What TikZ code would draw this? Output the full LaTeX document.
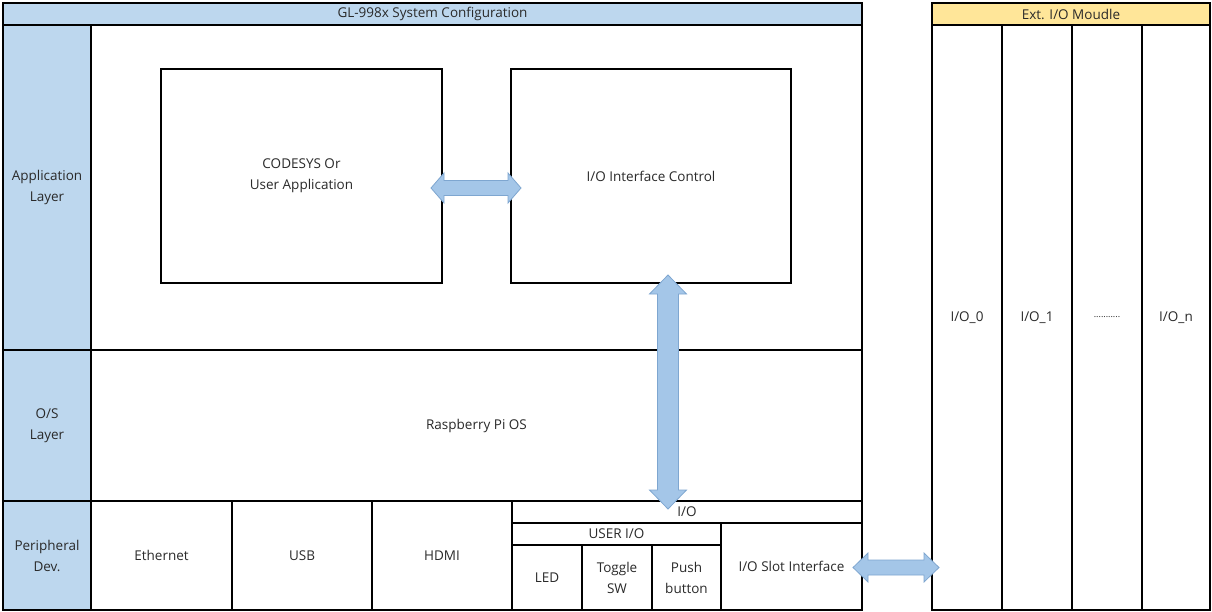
\documentclass[tikz,border=0pt]{standalone}
\usepackage{fontspec}
\setmainfont{Open Sans}
\usetikzlibrary{calc}
\definecolor{hdrblue}{HTML}{BDD7EE}
\definecolor{hdryellow}{HTML}{FFE699}
\definecolor{arrowfill}{HTML}{A4C6E8}
\definecolor{arrowline}{HTML}{7EA6D0}
\definecolor{txt}{HTML}{2A2A2A}
\tikzset{
  cell/.style={draw=black, line width=1.5pt, inner sep=0pt, align=center,
    font=\fontsize{13.5}{21}\selectfont, text=txt},
  blockarrow/.style={draw=arrowline, fill=arrowfill, line width=0.8pt, line join=miter},
}
% horizontal block arrow: #1 left tip, #2 right tip, head length, head half, shaft half
\newcommand\hblockarrow[5]{%
  \path let \p1=(#1), \p2=(#2) in
    [blockarrow] (\x1,\y1) -- (\x1+#3,\y1+#4) -- (\x1+#3,\y1+#5) -- (\x2-#3,\y1+#5)
    -- (\x2-#3,\y1+#4) -- (\x2,\y1) -- (\x2-#3,\y1-#4) -- (\x2-#3,\y1-#5)
    -- (\x1+#3,\y1-#5) -- (\x1+#3,\y1-#4) -- cycle;}
% vertical block arrow: #1 top tip, #2 bottom tip
\newcommand\vblockarrow[5]{%
  \path let \p1=(#1), \p2=(#2) in
    [blockarrow] (\x1,\y1) -- (\x1+#4,\y1-#3) -- (\x1+#5,\y1-#3) -- (\x1+#5,\y2+#3)
    -- (\x1+#4,\y2+#3) -- (\x1,\y2) -- (\x1-#4,\y2+#3) -- (\x1-#5,\y2+#3)
    -- (\x1-#5,\y1-#3) -- (\x1-#4,\y1-#3) -- cycle;}
\begin{document}
\begin{tikzpicture}[x=1pt,y=-1pt]
\useasboundingbox (0,0) rectangle (1212,612);
\fill[white] (0,0) rectangle (1212,612);
% ---- main system ----
\node[cell, minimum width=771pt, minimum height=325pt] (apparea) at (476.5,187.5) {};
\node[cell, minimum width=771pt, minimum height=151pt] (osarea) at (476.5,425.5) {Raspberry Pi OS};
\node[cell, fill=hdrblue, minimum width=859pt, minimum height=22pt] (sys) at (432.5,14) {GL-998x System Configuration};
\node[cell, fill=hdrblue, minimum width=88pt, minimum height=325pt] (lapp) at (47,187.5) {Application\\Layer};
\node[cell, fill=hdrblue, minimum width=88pt, minimum height=151pt] (los) at (47,425.5) {O/S\\Layer};
\node[cell, fill=hdrblue, minimum width=88pt, minimum height=109pt] (lper) at (47,555.5) {Peripheral\\Dev.};
\node[cell, minimum width=281pt, minimum height=214pt] (codesys) at (301.5,176) {CODESYS Or\\User Application};
\node[cell, minimum width=280pt, minimum height=214pt] (ioc) at (651,176) {I/O Interface Control};
\node[cell, minimum width=141pt, minimum height=109pt] (eth) at (161.5,555.5) {Ethernet};
\node[cell, minimum width=140pt, minimum height=109pt] (usb) at (302,555.5) {USB};
\node[cell, minimum width=140pt, minimum height=109pt] (hdmi) at (442,555.5) {HDMI};
\node[cell, minimum width=350pt, minimum height=22pt] (io) at (687,512) {};
\node[cell, minimum width=209pt, minimum height=22pt] (userio) at (616.5,534) {USER I/O};
\node[cell, minimum width=70pt, minimum height=65pt] (led) at (547,577.5) {LED};
\node[cell, minimum width=70pt, minimum height=65pt] (toggle) at (617,577.5) {Toggle\\SW};
\node[cell, minimum width=69pt, minimum height=65pt] (push) at (686.5,577.5) {Push\\button};
\node[cell, minimum width=141pt, minimum height=87pt] (slot) at (791.5,566.5) {I/O Slot Interface};
% ---- external module ----
\node[cell, minimum width=70pt, minimum height=585pt] (io0) at (967,317.5) {I/O\_0};
\node[cell, minimum width=70pt, minimum height=585pt] (io1) at (1037,317.5) {I/O\_1};
\node[cell, minimum width=70pt, minimum height=585pt] (iodots) at (1107,317.5) {\fontsize{9}{10}\selectfont ...........};
\node[cell, minimum width=68pt, minimum height=585pt] (ion) at (1176,317.5) {I/O\_n};
\node[cell, fill=hdryellow, minimum width=278pt, minimum height=22pt] (ext) at (1071,14) {Ext. I/O Moudle};
% ---- block arrows ----
\coordinate (a1l) at (431,188);
\coordinate (a1r) at (521,188);
\hblockarrow{a1l}{a1r}{13}{15}{7.5}
\coordinate (a3l) at (853,567.5);
\coordinate (a3r) at (939,567.5);
\hblockarrow{a3l}{a3r}{15}{14.5}{7.5}
\coordinate (a2t) at (668,275);
\coordinate (a2b) at (668,509);
\vblockarrow{a2t}{a2b}{19}{18.5}{10.5}
\node[cell, draw=none] (iolbl) at (687,512) {I/O};
\end{tikzpicture}
\end{document}
